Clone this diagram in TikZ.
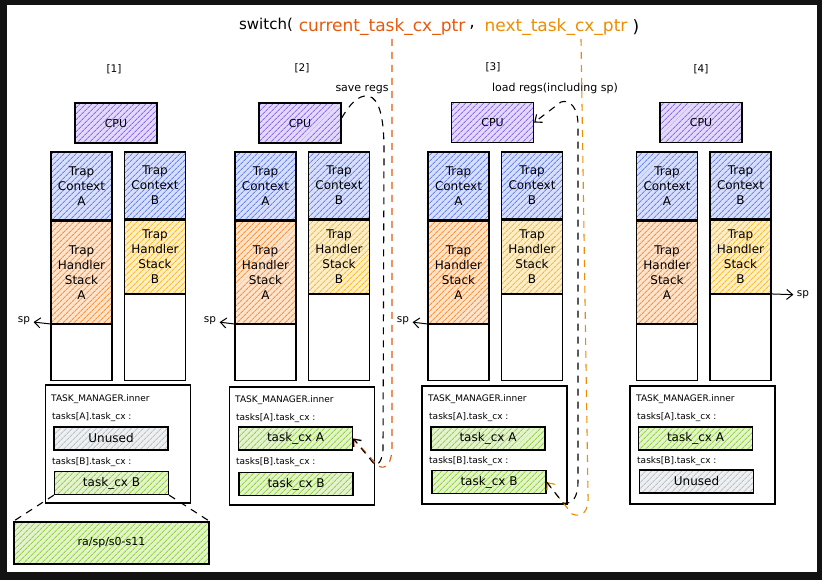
\documentclass[tikz,border=0pt]{standalone}
\usepackage{fontspec}
\setmainfont{DejaVu Sans}
\usetikzlibrary{arrows.meta,positioning,patterns.meta}
\definecolor{framec}{HTML}{121212}
\definecolor{cpuc}{HTML}{7950F2}
\definecolor{ctxc}{HTML}{4C6EF5}
\definecolor{hdlac}{HTML}{FD7E14}
\definecolor{hdlbc}{HTML}{FAB005}
\definecolor{cxc}{HTML}{82C91E}
\definecolor{unusedc}{HTML}{ADB5BD}
\definecolor{curc}{HTML}{E8590C}
\definecolor{nextc}{HTML}{F08C00}

\begin{document}
\begin{tikzpicture}[
    x=1pt, y=-1pt,
    hatch/.style={preaction={fill=#1!22},
      preaction={pattern={Lines[angle=45,distance=4pt,line width=0.9pt]},pattern color=#1!85}},
    box/.style={draw,line width=1.3pt,inner sep=0pt,align=center},
    cpubox/.style={box,hatch=cpuc,minimum width=82pt,minimum height=40pt,font=\fontsize{11}{13}\selectfont},
    col/.style={box,minimum width=61pt,font=\fontsize{12}{15}\selectfont},
    slot/.style={box,minimum width=114pt,minimum height=23pt,font=\fontsize{12}{14}\selectfont},
    small/.style={anchor=west,inner sep=0pt,font=\fontsize{9}{11}\selectfont},
    lbl/.style={font=\fontsize{10.5}{12}\selectfont},
    title/.style={font=\fontsize{17}{19}\selectfont},
    dashline/.style={line width=1.1pt,dash pattern=on 7pt off 6pt},
    arr/.style={-{Straight Barb[length=6pt,width=10pt]}},
    sparr/.style={arr,line width=1pt},
  ]
\useasboundingbox (0,0) rectangle (822,580);
\fill[framec] (0,0) rectangle (822,580);
\fill[white] (7,5) rectangle (817,572);

% title
\node[title,font=\fontsize{15}{18}\selectfont] (sw) at (266,25) {switch(};
\node[title,curc] (cur) at (382,27) {current\_task\_cx\_ptr};
\node[title] (comma) at (472,27) {,};
\node[title,nextc] (nxt) at (556,27) {next\_task\_cx\_ptr};
\node[title] (cls) at (636,27) {)};

% ============================ [1] ============================
\begin{scope}
  \node[lbl] (n1) at (114,69) {[1]};
  \node[cpubox] (cpu1) at (116,123) {CPU};
  \node[col,hatch=ctxc,minimum height=68pt] (ctxA1) at (81.5,186) {Trap\\Context\\A};
  \node[col,hatch=hdlac,minimum height=102pt,below=0pt of ctxA1] (hdlA1) {Trap\\Handler\\Stack\\A};
  \node[col,minimum height=56pt,below=0pt of hdlA1] (freeA1) {};
  \node[col,hatch=ctxc,minimum height=67pt] (ctxB1) at (155,185.5) {Trap\\Context\\B};
  \node[col,hatch=hdlbc,minimum height=73pt,below=0pt of ctxB1] (hdlB1) {Trap\\Handler\\Stack\\B};
  \node[col,minimum height=86pt,below=0pt of hdlB1] (freeB1) {};
  \node[lbl] (sp1) at (24,321) {sp};
  \draw[sparr] (hdlA1.south west) -- (sp1);

  \node[box,minimum width=145pt,minimum height=118pt] (tm1) at (118,444) {};
  \node[small] (tmt1) at (51,399) {TASK\_MANAGER.inner};
  \node[small] (ta1) at (52,417) {tasks[A].task\_cx :};
  \node[slot,hatch=unusedc] (slotA1) at (111,438.5) {Unused};
  \node[small] (tb1) at (52,462) {tasks[B].task\_cx :};
  \node[slot,hatch=cxc] (slotB1) at (111.5,483) {task\_cx B};

  % saved context of B, zoomed in
  \node[box,hatch=cxc,minimum width=195pt,minimum height=42pt,font=\fontsize{11}{13}\selectfont] (regs) at (111.5,543) {ra/sp/s0-s11};
  \draw[dashline] (slotB1.south west) -- (regs.north west);
  \draw[dashline] (slotB1.south east) -- (regs.north east);
\end{scope}

% ============================ [2] ============================
\begin{scope}[xshift=184pt]
  \node[lbl] (n2) at (118,68) {[2]};
  \node[cpubox] (cpu2) at (116,123) {CPU};
  \node[col,hatch=ctxc,minimum height=68pt] (ctxA2) at (81.5,186) {Trap\\Context\\A};
  \node[col,hatch=hdlac,minimum height=102pt,below=0pt of ctxA2] (hdlA2) {Trap\\Handler\\Stack\\A};
  \node[col,minimum height=56pt,below=0pt of hdlA2] (freeA2) {};
  \node[col,hatch=ctxc,minimum height=67pt] (ctxB2) at (155,185.5) {Trap\\Context\\B};
  \node[col,hatch=hdlbc,minimum height=73pt,below=0pt of ctxB2] (hdlB2) {Trap\\Handler\\Stack\\B};
  \node[col,minimum height=86pt,below=0pt of hdlB2] (freeB2) {};
  \node[lbl] (sp2) at (26,321) {sp};
  \draw[sparr] (hdlA2.south west) -- (sp2);

  \node[box,minimum width=145pt,minimum height=118pt] (tm2) at (118,446) {};
  \node[small] (tmt2) at (51,400) {TASK\_MANAGER.inner};
  \node[small] (ta2) at (52,418) {tasks[A].task\_cx :};
  \node[slot,hatch=cxc] (slotA2) at (111.5,438.5) {task\_cx A};
  \node[small] (tb2) at (52,462) {tasks[B].task\_cx :};
  \node[slot,hatch=cxc] (slotB2) at (112,484) {task\_cx B};
\end{scope}

% ============================ [3] ============================
\begin{scope}[xshift=377pt]
  \node[lbl] (n3) at (116,67) {[3]};
  \node[cpubox] (cpu3) at (115.5,122.5) {CPU};
  \node[col,hatch=ctxc,minimum height=68pt] (ctxA3) at (81.5,186) {Trap\\Context\\A};
  \node[col,hatch=hdlac,minimum height=102pt,below=0pt of ctxA3] (hdlA3) {Trap\\Handler\\Stack\\A};
  \node[col,minimum height=56pt,below=0pt of hdlA3] (freeA3) {};
  \node[col,hatch=ctxc,minimum height=67pt] (ctxB3) at (155,185.5) {Trap\\Context\\B};
  \node[col,hatch=hdlbc,minimum height=73pt,below=0pt of ctxB3] (hdlB3) {Trap\\Handler\\Stack\\B};
  \node[col,minimum height=86pt,below=0pt of hdlB3] (freeB3) {};
  \node[lbl] (sp3) at (26,321) {sp};
  \draw[sparr] (hdlA3.south west) -- (sp3);

  \node[box,minimum width=145pt,minimum height=118pt] (tm3) at (117.5,445) {};
  \node[small] (tmt3) at (51,399) {TASK\_MANAGER.inner};
  \node[small] (ta3) at (52,417) {tasks[A].task\_cx :};
  \node[slot,hatch=cxc] (slotA3) at (111,438.5) {task\_cx A};
  \node[small] (tb3) at (52,461) {tasks[B].task\_cx :};
  \node[slot,hatch=cxc] (slotB3) at (112,482) {task\_cx B};
\end{scope}

% ============================ [4] ============================
\begin{scope}[xshift=585pt]
  \node[lbl] (n4) at (116,69) {[4]};
  \node[cpubox] (cpu4) at (116,122.5) {CPU};
  \node[col,hatch=ctxc,minimum height=68pt] (ctxA4) at (82,186) {Trap\\Context\\A};
  \node[col,hatch=hdlac,minimum height=102pt,below=0pt of ctxA4] (hdlA4) {Trap\\Handler\\Stack\\A};
  \node[col,minimum height=56pt,below=0pt of hdlA4] (freeA4) {};
  \node[col,hatch=ctxc,minimum height=67pt] (ctxB4) at (155.5,185.5) {Trap\\Context\\B};
  \node[col,hatch=hdlbc,minimum height=73pt,below=0pt of ctxB4] (hdlB4) {Trap\\Handler\\Stack\\B};
  \node[col,minimum height=86pt,below=0pt of hdlB4] (freeB4) {};
  \node[lbl] (sp4) at (218,295) {sp};
  \draw[sparr] (hdlB4.south east) -- (sp4);

  \node[box,minimum width=145pt,minimum height=118pt] (tm4) at (117.5,445) {};
  \node[small] (tmt4) at (51,399) {TASK\_MANAGER.inner};
  \node[small] (ta4) at (52,417) {tasks[A].task\_cx :};
  \node[slot,hatch=cxc] (slotA4) at (110.5,438.5) {task\_cx A};
  \node[small] (tb4) at (52,461) {tasks[B].task\_cx :};
  \node[slot,hatch=unusedc] (slotB4) at (111.5,481.5) {Unused};
\end{scope}

% save / load of the registers
\node[lbl,font=\fontsize{11}{13}\selectfont] (save) at (362,90) {save regs};
\node[lbl,font=\fontsize{11}{13}\selectfont] (load) at (555,88) {load regs(including sp)};

\draw[dashline,curc,arr] ([xshift=10pt]cur.south) -- (392,446)
  .. controls (392,464) and (386,470) .. (378,466) -- (slotA2.east);
\draw[dashline,arr] ([yshift=5pt]cpu2.east) .. controls (350,104) and (358,95) .. (368,96)
  .. controls (380,98) and (384,120) .. (384,150) -- (383,450)
  .. controls (382,460) and (379,465) .. (375,465) -- (slotA2.east);

\draw[dashline,nextc,arr] ([xshift=25pt]nxt.south) -- (588,495)
  .. controls (589,512) and (582,518) .. (572,514) -- (slotB3.east);
\draw[dashline,arr] (slotB3.east) -- (563,503)
  .. controls (573,505) and (578,496) .. (578,482) -- (578,125)
  .. controls (578,108) and (570,99) .. (561,102) -- (cpu3.east);

\end{tikzpicture}
\end{document}
